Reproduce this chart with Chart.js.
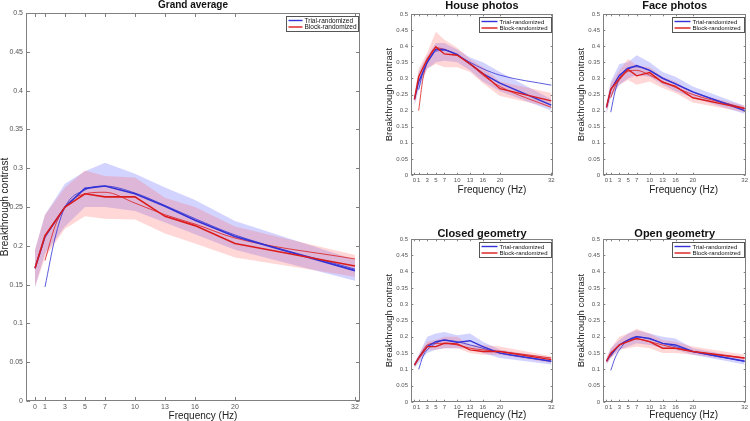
<!DOCTYPE html>
<html>
<head>
<meta charset="utf-8">
<script src="https://cdn.jsdelivr.net/npm/chart.js@4.4.1/dist/chart.umd.min.js"></script>
<style>
  body { margin: 0; background: #fff; width: 750px; height: 421px; position: relative; overflow: hidden; }
  canvas { position: absolute; }
</style>
</head>
<body>
<script>
// frequencies of the measured points and of the fitted curves
const freqs = [0, 1, 3, 5, 7, 10, 13, 16, 20, 32];
const fitFreqs = [1, 2, 3, 5, 7, 10, 13, 16, 20, 32];
const xTickValues = [0, 1, 3, 5, 7, 10, 13, 16, 20, 32];
const yTickValues = [0, 0.05, 0.1, 0.15, 0.2, 0.25, 0.3, 0.35, 0.4, 0.45, 0.5];
const seriesNames = ['Trial-randomized', 'Block-randomized'];

// Grand average
const grandTrial = [0.171, 0.212, 0.25, 0.274, 0.277, 0.267, 0.251, 0.233, 0.212, 0.168];
const grandTrialFit = [0.147, 0.21, 0.25, 0.272, 0.277, 0.268, 0.252, 0.235, 0.214, 0.17];
const grandTrialUpper = [0.195, 0.24, 0.28, 0.296, 0.307, 0.293, 0.275, 0.259, 0.232, 0.182];
const grandTrialLower = [0.147, 0.19, 0.225, 0.25, 0.25, 0.245, 0.23, 0.215, 0.195, 0.155];
const grandBlock = [0.171, 0.213, 0.25, 0.267, 0.263, 0.263, 0.238, 0.226, 0.203, 0.174];
const grandBlockFit = [0.181, 0.225, 0.25, 0.267, 0.269, 0.255, 0.24, 0.228, 0.21, 0.183];
const grandBlockUpper = [0.195, 0.24, 0.275, 0.297, 0.29, 0.288, 0.262, 0.25, 0.225, 0.188];
const grandBlockLower = [0.147, 0.185, 0.222, 0.238, 0.235, 0.234, 0.216, 0.203, 0.185, 0.16];

// House photos
const houseTrial = [0.235, 0.29, 0.35, 0.39, 0.39, 0.375, 0.345, 0.315, 0.285, 0.217];
const houseTrialFit = [0.265, 0.32, 0.35, 0.385, 0.387, 0.372, 0.35, 0.33, 0.31, 0.279];
const houseTrialUpper = [0.25, 0.32, 0.37, 0.41, 0.41, 0.39, 0.365, 0.35, 0.32, 0.235];
const houseTrialLower = [0.215, 0.265, 0.33, 0.35, 0.355, 0.35, 0.325, 0.29, 0.26, 0.2];
const houseBlock = [0.235, 0.305, 0.36, 0.398, 0.376, 0.372, 0.345, 0.315, 0.268, 0.23];
const houseBlockFit = [0.2, 0.3, 0.35, 0.395, 0.39, 0.372, 0.345, 0.31, 0.275, 0.21];
const houseBlockUpper = [0.25, 0.33, 0.38, 0.445, 0.42, 0.395, 0.36, 0.335, 0.29, 0.255];
const houseBlockLower = [0.215, 0.28, 0.33, 0.345, 0.335, 0.335, 0.32, 0.285, 0.245, 0.21];

// Face photos
const faceTrial = [0.21, 0.265, 0.31, 0.33, 0.34, 0.325, 0.3, 0.283, 0.258, 0.2];
const faceTrialFit = [0.195, 0.26, 0.3, 0.333, 0.336, 0.325, 0.302, 0.283, 0.258, 0.205];
const faceTrialUpper = [0.22, 0.29, 0.345, 0.35, 0.372, 0.35, 0.32, 0.305, 0.275, 0.215];
const faceTrialLower = [0.19, 0.24, 0.28, 0.3, 0.31, 0.305, 0.28, 0.26, 0.24, 0.19];
const faceBlock = [0.21, 0.266, 0.3, 0.328, 0.308, 0.318, 0.288, 0.275, 0.24, 0.206];
const faceBlockFit = [0.24, 0.275, 0.295, 0.322, 0.325, 0.31, 0.29, 0.272, 0.25, 0.208];
const faceBlockUpper = [0.225, 0.285, 0.325, 0.36, 0.34, 0.335, 0.305, 0.29, 0.255, 0.215];
const faceBlockLower = [0.19, 0.245, 0.28, 0.295, 0.28, 0.29, 0.27, 0.255, 0.225, 0.195];

// Closed geometry
const closedTrial = [0.113, 0.135, 0.17, 0.185, 0.19, 0.183, 0.188, 0.17, 0.15, 0.125];
const closedTrialFit = [0.1, 0.14, 0.16, 0.18, 0.19, 0.185, 0.175, 0.165, 0.15, 0.125];
const closedTrialUpper = [0.12, 0.145, 0.2, 0.21, 0.215, 0.205, 0.21, 0.185, 0.16, 0.135];
const closedTrialLower = [0.105, 0.12, 0.15, 0.16, 0.165, 0.165, 0.165, 0.15, 0.135, 0.115];
const closedBlock = [0.113, 0.135, 0.17, 0.17, 0.18, 0.178, 0.16, 0.155, 0.155, 0.13];
const closedBlockFit = [0.135, 0.158, 0.175, 0.18, 0.18, 0.175, 0.165, 0.16, 0.155, 0.135];
const closedBlockUpper = [0.12, 0.145, 0.185, 0.19, 0.2, 0.2, 0.175, 0.175, 0.17, 0.14];
const closedBlockLower = [0.105, 0.125, 0.16, 0.16, 0.165, 0.165, 0.15, 0.145, 0.145, 0.12];

// Open geometry
const openTrial = [0.125, 0.145, 0.175, 0.19, 0.2, 0.195, 0.18, 0.175, 0.155, 0.125];
const openTrialFit = [0.097, 0.135, 0.16, 0.19, 0.2, 0.193, 0.18, 0.17, 0.155, 0.125];
const openTrialUpper = [0.135, 0.165, 0.19, 0.21, 0.22, 0.21, 0.2, 0.195, 0.165, 0.135];
const openTrialLower = [0.115, 0.135, 0.16, 0.17, 0.18, 0.175, 0.165, 0.16, 0.145, 0.115];
const openBlock = [0.125, 0.15, 0.175, 0.185, 0.195, 0.185, 0.165, 0.165, 0.155, 0.135];
const openBlockFit = [0.14, 0.16, 0.175, 0.19, 0.193, 0.185, 0.175, 0.165, 0.155, 0.135];
const openBlockUpper = [0.135, 0.165, 0.2, 0.21, 0.225, 0.21, 0.19, 0.185, 0.17, 0.145];
const openBlockLower = [0.115, 0.135, 0.16, 0.165, 0.17, 0.165, 0.15, 0.15, 0.145, 0.125];

const FONT = '"Liberation Sans", Arial, Helvetica, sans-serif';
const BLUE = '#3232d6';
const RED = '#dc1c1c';
const BLUE_BAND = 'rgba(110, 110, 255, 0.30)';
const RED_BAND = 'rgba(255, 100, 100, 0.26)';

function pts(xs, ys) {
    return xs.map((x, i) => ({ x: x, y: ys[i] }));
}

// MATLAB-like box: title over the axes, frame with inward ticks, x label, boxed legend
const matlabAxes = {
    id: 'matlabAxes',
    afterDraw(chart, args, opts) {
        const { ctx, chartArea: a, scales: { x, y } } = chart;
        const L = Math.round(a.left) + 0.5, R = Math.round(a.right) - 0.5;
        const T = Math.round(a.top) + 0.5, B = Math.round(a.bottom) - 0.5;
        ctx.save();
        ctx.strokeStyle = '#808080';
        ctx.lineWidth = 1;
        ctx.strokeRect(L, T, R - L, B - T);
        ctx.beginPath();
        xTickValues.forEach(v => {
            const px = Math.round(x.getPixelForValue(v)) + 0.5;
            ctx.moveTo(px, B); ctx.lineTo(px, B - opts.tickLen);
            ctx.moveTo(px, T); ctx.lineTo(px, T + opts.tickLen);
        });
        yTickValues.forEach(v => {
            const py = Math.round(y.getPixelForValue(v)) + 0.5;
            ctx.moveTo(L, py); ctx.lineTo(L + opts.tickLen, py);
            ctx.moveTo(R, py); ctx.lineTo(R - opts.tickLen, py);
        });
        ctx.stroke();

        // title centred on the axes
        ctx.fillStyle = '#111';
        ctx.font = 'bold ' + opts.titleSize + 'px ' + FONT;
        ctx.textAlign = 'center';
        ctx.textBaseline = 'middle';
        ctx.fillText(opts.title, (a.left + a.right) / 2, opts.titleY);

        // x axis label
        ctx.fillStyle = '#222';
        ctx.font = '10px ' + FONT;
        ctx.fillText('Frequency (Hz)', (a.left + a.right) / 2 + opts.xLabelDx, a.bottom + opts.xLabelDy);

        // legend box in the top right corner
        const bw = 72, bh = 15;
        const bx = Math.round(a.right - 2 - bw) + 0.5, by = Math.round(a.top + 3) + 0.5;
        ctx.fillStyle = '#fff';
        ctx.fillRect(bx, by, bw, bh);
        ctx.strokeStyle = '#555';
        ctx.strokeRect(bx, by, bw, bh);
        ctx.font = opts.legendSize + 'px ' + FONT;
        ctx.textAlign = 'left';
        [BLUE, RED].forEach((c, i) => {
            const ly = by + 4 + i * 6.5;
            ctx.strokeStyle = c;
            ctx.lineWidth = 1.4;
            ctx.beginPath();
            ctx.moveTo(bx + 2, ly); ctx.lineTo(bx + 2 + opts.lineLen, ly);
            ctx.stroke();
            ctx.fillStyle = '#111';
            ctx.fillText(seriesNames[i], bx + 4 + opts.lineLen, ly + 0.5);
        });
        ctx.restore();
    }
};

const panels = [
    { title: 'Grand average', box: [0, 0, 365, 421], top: 13, titleY: 5, titleSize: 10, padRight: 5, xH: 20, yW: 26,
      xmin: -0.9, xmax: 32.5, tickFont: 7, tickLen: 3.5, lineLen: 14, legendSize: 6.5, thick: 1.6, xLabelDx: 10, xLabelDy: 15,
      trial: grandTrial, trialFit: grandTrialFit, trialUp: grandTrialUpper, trialLo: grandTrialLower,
      block: grandBlock, blockFit: grandBlockFit, blockUp: grandBlockUpper, blockLo: grandBlockLower },
    { title: 'House photos', box: [385, 0, 175, 197], top: 14, titleY: 6, titleSize: 11, padRight: 7, xH: 22, yW: 26,
      xmin: -0.8, xmax: 32.4, tickFont: 6, tickLen: 1.8, lineLen: 16, legendSize: 6, thick: 1.4, xLabelDx: 10, xLabelDy: 15,
      trial: houseTrial, trialFit: houseTrialFit, trialUp: houseTrialUpper, trialLo: houseTrialLower,
      block: houseBlock, blockFit: houseBlockFit, blockUp: houseBlockUpper, blockLo: houseBlockLower },
    { title: 'Face photos', box: [577, 0, 173, 197], top: 14, titleY: 6, titleSize: 11, padRight: 3, xH: 22, yW: 26,
      xmin: -0.8, xmax: 32.4, tickFont: 6, tickLen: 1.8, lineLen: 16, legendSize: 6, thick: 1.4, xLabelDx: 9, xLabelDy: 15,
      trial: faceTrial, trialFit: faceTrialFit, trialUp: faceTrialUpper, trialLo: faceTrialLower,
      block: faceBlock, blockFit: faceBlockFit, blockUp: faceBlockUpper, blockLo: faceBlockLower },
    { title: 'Closed geometry', box: [385, 226, 175, 195], top: 13, titleY: 7.5, titleSize: 11, padRight: 7, xH: 19, yW: 26,
      xmin: -0.8, xmax: 32.4, tickFont: 6, tickLen: 1.8, lineLen: 16, legendSize: 6, thick: 1.4, xLabelDx: 10, xLabelDy: 13.5,
      trial: closedTrial, trialFit: closedTrialFit, trialUp: closedTrialUpper, trialLo: closedTrialLower,
      block: closedBlock, blockFit: closedBlockFit, blockUp: closedBlockUpper, blockLo: closedBlockLower },
    { title: 'Open geometry', box: [577, 226, 173, 195], top: 13, titleY: 7.5, titleSize: 11, padRight: 3, xH: 19, yW: 26,
      xmin: -0.8, xmax: 32.4, tickFont: 6, tickLen: 1.8, lineLen: 16, legendSize: 6, thick: 1.4, xLabelDx: 9, xLabelDy: 13.5,
      trial: openTrial, trialFit: openTrialFit, trialUp: openTrialUpper, trialLo: openTrialLower,
      block: openBlock, blockFit: openBlockFit, blockUp: openBlockUpper, blockLo: openBlockLower }
];

function bandSet(data, color, fill, order) {
    return { data: data, borderWidth: 0, pointRadius: 0, backgroundColor: color, fill: fill, order: order, tension: 0 };
}

function lineSet(data, color, width, order, smooth) {
    return { data: data, borderColor: color, borderWidth: width, pointRadius: 0, fill: false, order: order,
             cubicInterpolationMode: smooth ? 'monotone' : 'default', tension: 0 };
}

panels.forEach(p => {
    const canvas = document.createElement('canvas');
    canvas.width = p.box[2];
    canvas.height = p.box[3];
    canvas.style.left = p.box[0] + 'px';
    canvas.style.top = p.box[1] + 'px';
    document.body.appendChild(canvas);

    new Chart(canvas, {
        type: 'line',
        data: {
            datasets: [
                bandSet(pts(freqs, p.trialUp), BLUE_BAND, '+1', 10),
                bandSet(pts(freqs, p.trialLo), BLUE_BAND, false, 10),
                bandSet(pts(freqs, p.blockUp), RED_BAND, '+1', 9),
                bandSet(pts(freqs, p.blockLo), RED_BAND, false, 9),
                lineSet(pts(fitFreqs, p.trialFit), BLUE, 0.8, 4, true),
                lineSet(pts(fitFreqs, p.blockFit), RED, 0.8, 3, true),
                lineSet(pts(freqs, p.trial), BLUE, p.thick, 2, false),
                lineSet(pts(freqs, p.block), RED, p.thick, 1, false)
            ]
        },
        options: {
            responsive: false,
            animation: false,
            events: [],
            layout: { padding: { top: p.top, right: p.padRight, left: 0, bottom: 0 } },
            plugins: {
                legend: { display: false },
                tooltip: { enabled: false },
                title: { display: false },
                matlabAxes: { title: p.title, titleY: p.titleY, titleSize: p.titleSize, tickLen: p.tickLen,
                              lineLen: p.lineLen, legendSize: p.legendSize, xLabelDx: p.xLabelDx, xLabelDy: p.xLabelDy }
            },
            scales: {
                x: {
                    type: 'linear',
                    min: p.xmin,
                    max: p.xmax,
                    afterBuildTicks: s => { s.ticks = xTickValues.map(v => ({ value: v })); },
                    afterFit: s => { s.height = p.xH; },
                    grid: { display: false, drawTicks: false },
                    border: { display: false },
                    ticks: { autoSkip: false, maxRotation: 0, padding: 2, color: '#555',
                             font: { family: FONT, size: p.tickFont }, callback: v => String(v) },
                    title: { display: false }
                },
                y: {
                    type: 'linear',
                    min: 0,
                    max: 0.5,
                    afterBuildTicks: s => { s.ticks = yTickValues.map(v => ({ value: v })); },
                    afterFit: s => { s.width = p.yW; },
                    grid: { display: false, drawTicks: false },
                    border: { display: false },
                    ticks: { padding: 3, color: '#555', font: { family: FONT, size: p.tickFont },
                             callback: v => String(+v.toFixed(2)) },
                    title: { display: true, text: 'Breakthrough contrast', color: '#222', padding: 0,
                             font: { family: FONT, size: p === panels[0] ? 10 : 9.5, lineHeight: 1 } }
                }
            }
        },
        plugins: [matlabAxes]
    });
});
</script>
</body>
</html>
